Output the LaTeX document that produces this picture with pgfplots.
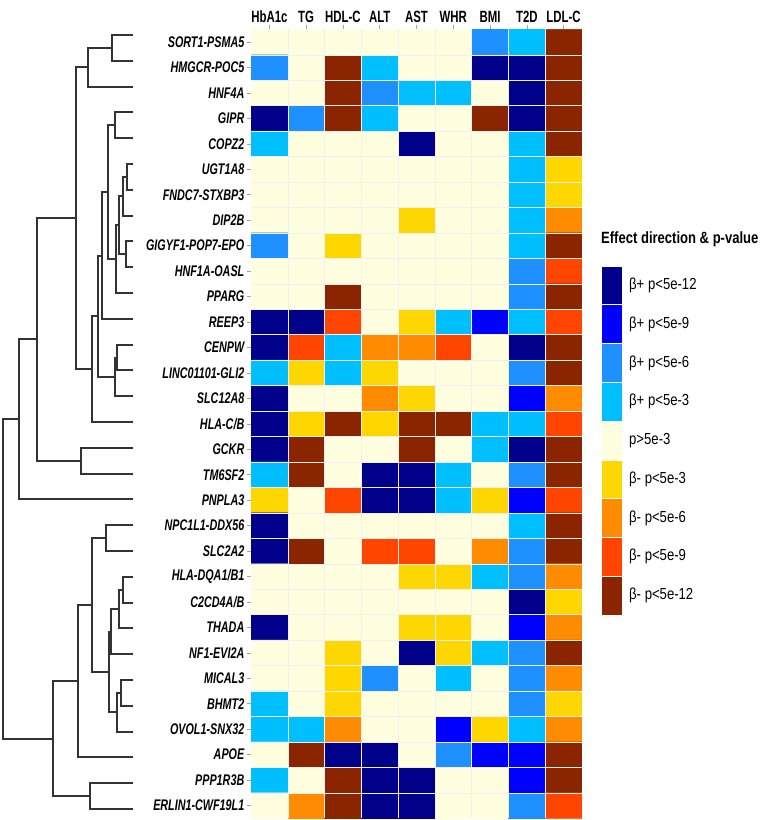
\documentclass[border=0pt]{standalone}
\usepackage{pgfplots}
\pgfplotsset{compat=1.18}
\usepackage{fontspec}
\setmainfont{Liberation Sans}
\usepackage{graphicx}

\definecolor{e1}{RGB}{0,0,139}
\definecolor{e2}{RGB}{0,0,255}
\definecolor{e3}{RGB}{30,144,255}
\definecolor{e4}{RGB}{0,191,255}
\definecolor{e5}{RGB}{255,255,224}
\definecolor{e6}{RGB}{255,215,0}
\definecolor{e7}{RGB}{255,140,0}
\definecolor{e8}{RGB}{255,69,0}
\definecolor{e9}{RGB}{139,37,0}

% condensed labels
\newcommand{\rl}[1]{\scalebox{0.70}[1]{\bfseries\itshape #1}}
\newcommand{\cl}[1]{\scalebox{0.70}[1]{\bfseries #1}}
\newcommand{\lgd}[1]{\scalebox{0.82}[1]{#1}}

\pgfplotsset{dend/.style={black!80, line width=2pt, line join=miter, forget plot}}

\begin{document}
\begin{tikzpicture}
\path[use as bounding box] (0pt,0pt) rectangle (762pt,-820pt);

% dendrogram, pixel coordinates
\begin{axis}[at={(0pt,0pt)}, anchor=north west, scale only axis,
  width=762pt, height=820pt, xmin=0, xmax=762, ymin=0, ymax=820,
  y dir=reverse, hide axis, clip=false]
\addplot[dend] coordinates {(133,35) (112,35) (112,60.8) (133,60.8)};
\addplot[dend] coordinates {(112,47.9) (88,47.9) (88,86.6) (133,86.6)};
\addplot[dend] coordinates {(133,112.4) (115,112.4) (115,138.2) (133,138.2)};
\addplot[dend] coordinates {(133,164) (127,164) (127,189.8) (133,189.8)};
\addplot[dend] coordinates {(127,176.9) (123,176.9) (123,215.6) (133,215.6)};
\addplot[dend] coordinates {(133,241.4) (126,241.4) (126,267.2) (133,267.2)};
\addplot[dend] coordinates {(123,196.25) (119,196.25) (119,254.3) (126,254.3)};
\addplot[dend] coordinates {(119,225.3) (116,225.3) (116,293) (133,293)};
\addplot[dend] coordinates {(115,125.3) (108,125.3) (108,259.1) (116,259.1)};
\addplot[dend] coordinates {(108,192.2) (102,192.2) (102,318.8) (133,318.8)};
\addplot[dend] coordinates {(133,344.6) (117,344.6) (117,370.4) (133,370.4)};
\addplot[dend] coordinates {(117,357.5) (115,357.5) (115,396.2) (133,396.2)};
\addplot[dend] coordinates {(102,255.5) (98,255.5) (98,376.85) (115,376.85)};
\addplot[dend] coordinates {(98,316.2) (92,316.2) (92,422) (133,422)};
\addplot[dend] coordinates {(88,67.25) (76,67.25) (76,369.1) (92,369.1)};
\addplot[dend] coordinates {(133,447.8) (81,447.8) (81,473.6) (133,473.6)};
\addplot[dend] coordinates {(76,218.2) (37,218.2) (37,460.7) (81,460.7)};
\addplot[dend] coordinates {(37,339.4) (19,339.4) (19,499.4) (133,499.4)};
\addplot[dend] coordinates {(133,525.2) (106,525.2) (106,551) (133,551)};
\addplot[dend] coordinates {(133,576.8) (123,576.8) (123,602.6) (133,602.6)};
\addplot[dend] coordinates {(123,589.7) (119,589.7) (119,628.4) (133,628.4)};
\addplot[dend] coordinates {(119,609.05) (111,609.05) (111,654.2) (133,654.2)};
\addplot[dend] coordinates {(133,680) (121,680) (121,705.8) (133,705.8)};
\addplot[dend] coordinates {(121,692.9) (117,692.9) (117,731.6) (133,731.6)};
\addplot[dend] coordinates {(111,631.6) (109,631.6) (109,712.25) (117,712.25)};
\addplot[dend] coordinates {(106,538.1) (92,538.1) (92,671.9) (109,671.9)};
\addplot[dend] coordinates {(92,605) (78,605) (78,757.4) (133,757.4)};
\addplot[dend] coordinates {(133,783.2) (90,783.2) (90,809) (133,809)};
\addplot[dend] coordinates {(78,681.2) (53,681.2) (53,796.1) (90,796.1)};
\addplot[dend] coordinates {(19,419.4) (3,419.4) (3,738.65) (53,738.65)};
\end{axis}

% heatmap
\begin{axis}[at={(251pt,-29.3pt)}, anchor=north west, scale only axis,
  width=331pt, height=789pt,
  xmin=0.5, xmax=9.5, ymin=0.5, ymax=31.5, y dir=reverse,
  axis line style={draw=none},
  xtick={1,...,9}, ytick={1,...,31},
  xticklabels={\cl{HbA1c},\cl{TG},\cl{HDL-C},\cl{ALT},\cl{AST},\cl{WHR},\cl{BMI},\cl{T2D},\cl{LDL-C}},
  yticklabels={\rl{SORT1-PSMA5},\rl{HMGCR-POC5},\rl{HNF4A},\rl{GIPR},\rl{COPZ2},
    \rl{UGT1A8},\rl{FNDC7-STXBP3},\rl{DIP2B},\rl{GIGYF1-POP7-EPO},\rl{HNF1A-OASL},
    \rl{PPARG},\rl{REEP3},\rl{CENPW},\rl{LINC01101-GLI2},\rl{SLC12A8},\rl{HLA-C/B},
    \rl{GCKR},\rl{TM6SF2},\rl{PNPLA3},\rl{NPC1L1-DDX56},\rl{SLC2A2},\rl{HLA-DQA1/B1},
    \rl{C2CD4A/B},\rl{THADA},\rl{NF1-EVI2A},\rl{MICAL3},\rl{BHMT2},\rl{OVOL1-SNX32},
    \rl{APOE},\rl{PPP1R3B},\rl{ERLIN1-CWF19L1}},
  xtick pos=upper, xticklabel pos=upper, ytick pos=lower, yticklabel pos=lower,
  tick align=outside, major tick length=4.5pt,
  tick style={gray!70, line width=0.6pt},
  minor xtick={1.5,2.5,...,8.5}, minor ytick={1.5,2.5,...,30.5},
  minor tick length=0pt, grid=minor,
  minor grid style={white!88!gray, line width=0.5pt},
  axis on top,
  xticklabel style={font=\fontsize{16.3}{18}\selectfont, inner sep=2pt},
  yticklabel style={font=\fontsize{15.4}{17}\selectfont, inner sep=2pt},
  colormap={eff}{rgb255=(255,255,255) rgb255=(0,0,139) rgb255=(0,0,255)
    rgb255=(30,144,255) rgb255=(0,191,255) rgb255=(255,255,224)
    rgb255=(255,215,0) rgb255=(255,140,0) rgb255=(255,69,0) rgb255=(139,37,0)},
  colormap access=direct, point meta=explicit]
\addplot[matrix plot*, mesh/cols=9, point meta=explicit] coordinates {
(1,1)[5] (2,1)[5] (3,1)[5] (4,1)[5] (5,1)[5] (6,1)[5] (7,1)[3] (8,1)[4] (9,1)[9]
(1,2)[3] (2,2)[5] (3,2)[9] (4,2)[4] (5,2)[5] (6,2)[5] (7,2)[1] (8,2)[1] (9,2)[9]
(1,3)[5] (2,3)[5] (3,3)[9] (4,3)[3] (5,3)[4] (6,3)[4] (7,3)[5] (8,3)[1] (9,3)[9]
(1,4)[1] (2,4)[3] (3,4)[9] (4,4)[4] (5,4)[5] (6,4)[5] (7,4)[9] (8,4)[1] (9,4)[9]
(1,5)[4] (2,5)[5] (3,5)[5] (4,5)[5] (5,5)[1] (6,5)[5] (7,5)[5] (8,5)[4] (9,5)[9]
(1,6)[5] (2,6)[5] (3,6)[5] (4,6)[5] (5,6)[5] (6,6)[5] (7,6)[5] (8,6)[4] (9,6)[6]
(1,7)[5] (2,7)[5] (3,7)[5] (4,7)[5] (5,7)[5] (6,7)[5] (7,7)[5] (8,7)[4] (9,7)[6]
(1,8)[5] (2,8)[5] (3,8)[5] (4,8)[5] (5,8)[6] (6,8)[5] (7,8)[5] (8,8)[4] (9,8)[7]
(1,9)[3] (2,9)[5] (3,9)[6] (4,9)[5] (5,9)[5] (6,9)[5] (7,9)[5] (8,9)[4] (9,9)[9]
(1,10)[5] (2,10)[5] (3,10)[5] (4,10)[5] (5,10)[5] (6,10)[5] (7,10)[5] (8,10)[3] (9,10)[8]
(1,11)[5] (2,11)[5] (3,11)[9] (4,11)[5] (5,11)[5] (6,11)[5] (7,11)[5] (8,11)[3] (9,11)[9]
(1,12)[1] (2,12)[1] (3,12)[8] (4,12)[5] (5,12)[6] (6,12)[4] (7,12)[2] (8,12)[4] (9,12)[8]
(1,13)[1] (2,13)[8] (3,13)[4] (4,13)[7] (5,13)[7] (6,13)[8] (7,13)[5] (8,13)[1] (9,13)[9]
(1,14)[4] (2,14)[6] (3,14)[4] (4,14)[6] (5,14)[5] (6,14)[5] (7,14)[5] (8,14)[3] (9,14)[9]
(1,15)[1] (2,15)[5] (3,15)[5] (4,15)[7] (5,15)[6] (6,15)[5] (7,15)[5] (8,15)[2] (9,15)[7]
(1,16)[1] (2,16)[6] (3,16)[9] (4,16)[6] (5,16)[9] (6,16)[9] (7,16)[4] (8,16)[4] (9,16)[8]
(1,17)[1] (2,17)[9] (3,17)[5] (4,17)[5] (5,17)[9] (6,17)[5] (7,17)[4] (8,17)[1] (9,17)[9]
(1,18)[4] (2,18)[9] (3,18)[5] (4,18)[1] (5,18)[1] (6,18)[4] (7,18)[5] (8,18)[3] (9,18)[9]
(1,19)[6] (2,19)[5] (3,19)[8] (4,19)[1] (5,19)[1] (6,19)[4] (7,19)[6] (8,19)[2] (9,19)[8]
(1,20)[1] (2,20)[5] (3,20)[5] (4,20)[5] (5,20)[5] (6,20)[5] (7,20)[5] (8,20)[4] (9,20)[9]
(1,21)[1] (2,21)[9] (3,21)[5] (4,21)[8] (5,21)[8] (6,21)[5] (7,21)[7] (8,21)[3] (9,21)[9]
(1,22)[5] (2,22)[5] (3,22)[5] (4,22)[5] (5,22)[6] (6,22)[6] (7,22)[4] (8,22)[3] (9,22)[7]
(1,23)[5] (2,23)[5] (3,23)[5] (4,23)[5] (5,23)[5] (6,23)[5] (7,23)[5] (8,23)[1] (9,23)[6]
(1,24)[1] (2,24)[5] (3,24)[5] (4,24)[5] (5,24)[6] (6,24)[6] (7,24)[5] (8,24)[2] (9,24)[7]
(1,25)[5] (2,25)[5] (3,25)[6] (4,25)[5] (5,25)[1] (6,25)[6] (7,25)[4] (8,25)[3] (9,25)[9]
(1,26)[5] (2,26)[5] (3,26)[6] (4,26)[3] (5,26)[5] (6,26)[4] (7,26)[5] (8,26)[3] (9,26)[7]
(1,27)[4] (2,27)[5] (3,27)[6] (4,27)[5] (5,27)[5] (6,27)[5] (7,27)[5] (8,27)[3] (9,27)[6]
(1,28)[4] (2,28)[4] (3,28)[7] (4,28)[5] (5,28)[5] (6,28)[2] (7,28)[6] (8,28)[4] (9,28)[7]
(1,29)[5] (2,29)[9] (3,29)[1] (4,29)[1] (5,29)[5] (6,29)[3] (7,29)[2] (8,29)[2] (9,29)[9]
(1,30)[4] (2,30)[5] (3,30)[9] (4,30)[1] (5,30)[1] (6,30)[5] (7,30)[5] (8,30)[2] (9,30)[9]
(1,31)[5] (2,31)[7] (3,31)[9] (4,31)[1] (5,31)[1] (6,31)[5] (7,31)[5] (8,31)[3] (9,31)[8]
};
\end{axis}

% legend
\begin{axis}[at={(601pt,-266pt)}, anchor=north west, scale only axis,
  width=21pt, height=349pt,
  xmin=0.5, xmax=1.5, ymin=0.5, ymax=9.5, y dir=reverse,
  axis line style={draw=none}, xtick=\empty,
  ytick={1,...,9}, ytick style={draw=none}, major tick length=0pt,
  yticklabel pos=upper,
  yticklabels={\lgd{β+ p<5e-12},\lgd{β+ p<5e-9},\lgd{β+ p<5e-6},\lgd{β+ p<5e-3},
    \lgd{p>5e-3},\lgd{β- p<5e-3},\lgd{β- p<5e-6},\lgd{β- p<5e-9},\lgd{β- p<5e-12}},
  yticklabel style={font=\fontsize{16}{18}\selectfont, inner sep=0pt, xshift=7pt},
  title={\scalebox{0.8}[1]{Effect direction \& p-value}},
  title style={at={(0,1)}, anchor=south west, inner sep=0pt, yshift=12.5pt,
    font=\bfseries\fontsize{16.3}{18}\selectfont},
  clip=false]
\addplot[fill=e1, draw=white, line width=0.6pt] coordinates {(0.5,0.5) (1.5,0.5) (1.5,1.5) (0.5,1.5)} -- cycle;
\addplot[fill=e2, draw=white, line width=0.6pt] coordinates {(0.5,1.5) (1.5,1.5) (1.5,2.5) (0.5,2.5)} -- cycle;
\addplot[fill=e3, draw=white, line width=0.6pt] coordinates {(0.5,2.5) (1.5,2.5) (1.5,3.5) (0.5,3.5)} -- cycle;
\addplot[fill=e4, draw=white, line width=0.6pt] coordinates {(0.5,3.5) (1.5,3.5) (1.5,4.5) (0.5,4.5)} -- cycle;
\addplot[fill=e5, draw=white, line width=0.6pt] coordinates {(0.5,4.5) (1.5,4.5) (1.5,5.5) (0.5,5.5)} -- cycle;
\addplot[fill=e6, draw=white, line width=0.6pt] coordinates {(0.5,5.5) (1.5,5.5) (1.5,6.5) (0.5,6.5)} -- cycle;
\addplot[fill=e7, draw=white, line width=0.6pt] coordinates {(0.5,6.5) (1.5,6.5) (1.5,7.5) (0.5,7.5)} -- cycle;
\addplot[fill=e8, draw=white, line width=0.6pt] coordinates {(0.5,7.5) (1.5,7.5) (1.5,8.5) (0.5,8.5)} -- cycle;
\addplot[fill=e9, draw=white, line width=0.6pt] coordinates {(0.5,8.5) (1.5,8.5) (1.5,9.5) (0.5,9.5)} -- cycle;
\end{axis}
\end{tikzpicture}
\end{document}
